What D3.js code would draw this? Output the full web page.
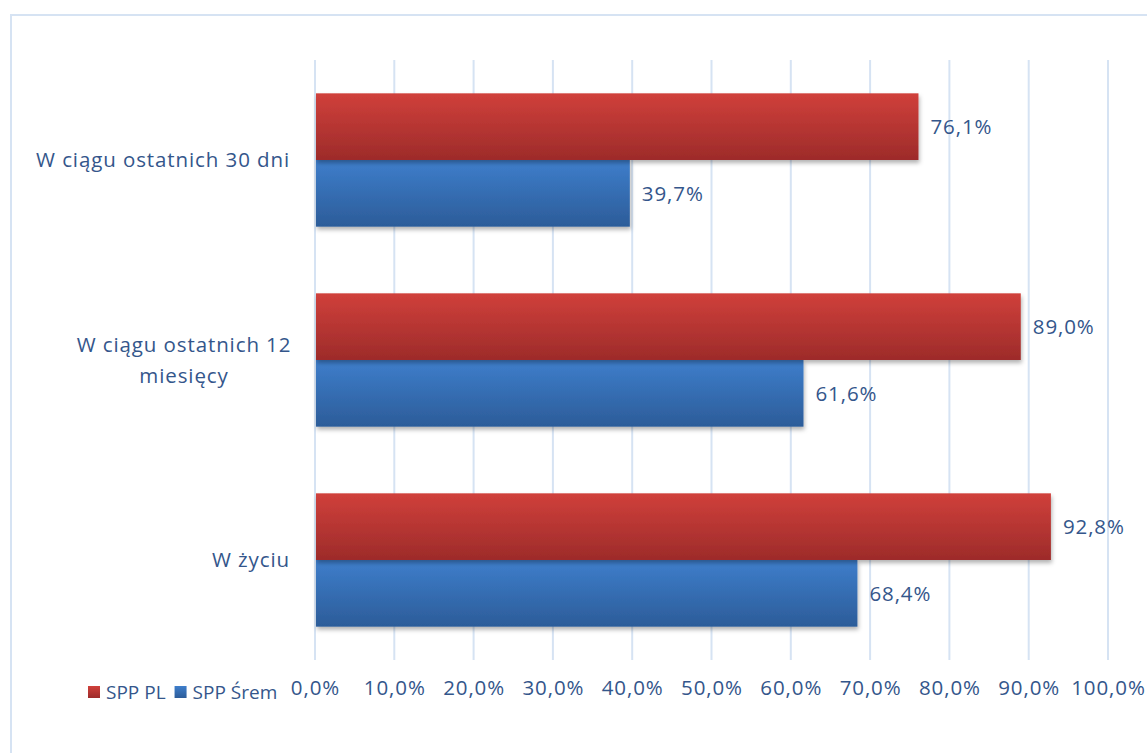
<!DOCTYPE html>
<html>
<head>
<meta charset="utf-8">
<script src="https://cdn.jsdelivr.net/npm/d3@7"></script>
<style>
  body { margin: 0; background: #fff; }
  text { font-family: "Open Sans", "Noto Sans", sans-serif; fill: #34568b; letter-spacing: 0.9px; }
  .legend text { letter-spacing: 0; }
</style>
</head>
<body>
<script>
// dane
var categories = ["W ciągu ostatnich 30 dni", "W ciągu ostatnich 12 miesięcy", "W życiu"];
var seriesNames = ["SPP PL", "SPP Śrem"];
var spp_pl = [76.1, 89.0, 92.8];
var spp_srem = [39.7, 61.6, 68.4];
var ticks = [0, 10, 20, 30, 40, 50, 60, 70, 80, 90, 100];

var w = 1147, h = 753;
var plotL = 315, plotR = 1108, plotT = 60, plotB = 660;
var fs = "20.5px";

var svg = d3.select("body").append("svg")
  .attr("width", w)
  .attr("height", h);

var defs = svg.append("defs");
function grad(id, c1, c2) {
  var g = defs.append("linearGradient").attr("id", id)
    .attr("x1", 0).attr("y1", 0).attr("x2", 0).attr("y2", 1);
  g.append("stop").attr("offset", "0%").attr("stop-color", c1);
  g.append("stop").attr("offset", "100%").attr("stop-color", c2);
}
grad("gRed", "#d0403b", "#9d2b2a");
grad("gBlue", "#3e7ecb", "#2c5c99");
var f = defs.append("filter").attr("id", "shadow")
  .attr("x", "-5%").attr("y", "-10%").attr("width", "110%").attr("height", "130%");
f.append("feDropShadow").attr("dx", 1).attr("dy", 3).attr("stdDeviation", 2)
  .attr("flood-color", "#000").attr("flood-opacity", 0.3);

// ramka
svg.append("rect")
  .attr("x", 11).attr("y", 15)
  .attr("width", 1200).attr("height", 800)
  .attr("fill", "none").attr("stroke", "#d6e3f3").attr("stroke-width", 2);

var x = d3.scaleLinear().domain([0, 100]).range([plotL, plotR]);
var y = d3.scaleBand().domain(categories).range([plotT, plotB]);
var y1 = d3.scaleBand().domain(seriesNames).range([0, y.bandwidth()]).paddingOuter(0.5);

// siatka
svg.append("g").selectAll("line")
  .data(ticks)
  .enter()
  .append("line")
  .attr("x1", function (d) { return x(d); })
  .attr("x2", function (d) { return x(d); })
  .attr("y1", plotT).attr("y2", plotB)
  .attr("stroke", "#d6e3f3").attr("stroke-width", 2);

// os X
var xAxis = d3.axisBottom(x).tickValues(ticks)
  .tickFormat(function (d) { return d.toFixed(1).replace(".", ",") + "%"; })
  .tickSize(0).tickPadding(0);
var ax = svg.append("g").attr("transform", "translate(0," + 688 + ")").call(xAxis);
ax.select(".domain").remove();
ax.selectAll("text").attr("dy", "0.35em").attr("fill", null).attr("font-family", null).attr("font-size", null)
  .style("font-size", fs);

var groups = [
  { name: "SPP PL", values: spp_pl, fill: "url(#gRed)" },
  { name: "SPP Śrem", values: spp_srem, fill: "url(#gBlue)" }
];

// słupki
groups.slice().reverse().forEach(function (s) {
  svg.append("g").selectAll("rect")
    .data(s.values)
    .enter()
    .append("rect")
    .attr("x", x(0) + 1)
    .attr("y", function (d, i) { return y(categories[i]) + y1(s.name); })
    .attr("width", function (d) { return x(d) - x(0) - 1; })
    .attr("height", y1.bandwidth())
    .attr("fill", s.fill)
    .attr("filter", "url(#shadow)");
});

// etykiety wartości
groups.forEach(function (s) {
  svg.append("g").selectAll("text")
    .data(s.values)
    .enter()
    .append("text")
    .attr("x", function (d) { return x(d) + 12; })
    .attr("y", function (d, i) { return y(categories[i]) + y1(s.name) + y1.bandwidth() / 2; })
    .attr("dy", "0.35em")
    .style("font-size", fs)
    .text(function (d) { return d.toFixed(1).replace(".", ",") + "%"; });
});

// kategorie
var catLines = [["W ciągu ostatnich 30 dni"], ["W ciągu ostatnich 12", "miesięcy"], ["W życiu"]];
categories.forEach(function (c, i) {
  var lines = catLines[i];
  var cy = y(c) + y.bandwidth() / 2;
  var t = svg.append("text")
    .attr("text-anchor", lines.length > 1 ? "middle" : "end")
    .style("font-size", fs);
  lines.forEach(function (l, j) {
    t.append("tspan")
      .attr("x", lines.length > 1 ? 184 : 290)
      .attr("y", cy + (j - (lines.length - 1) / 2) * 31)
      .attr("dy", "0.35em")
      .text(l);
  });
});

// legenda
var lg = svg.append("g").attr("class", "legend").attr("transform", "translate(88,692)");
var lx = 0;
groups.forEach(function (s) {
  lg.append("rect").attr("x", lx).attr("y", -6).attr("width", 12).attr("height", 12).attr("fill", s.fill);
  var t = lg.append("text").attr("x", lx + 18).attr("y", 0).attr("dy", "0.35em")
    .style("font-size", "19px").text(s.name);
  lx += 18 + t.node().getComputedTextLength() + 9;
});
</script>
</body>
</html>
